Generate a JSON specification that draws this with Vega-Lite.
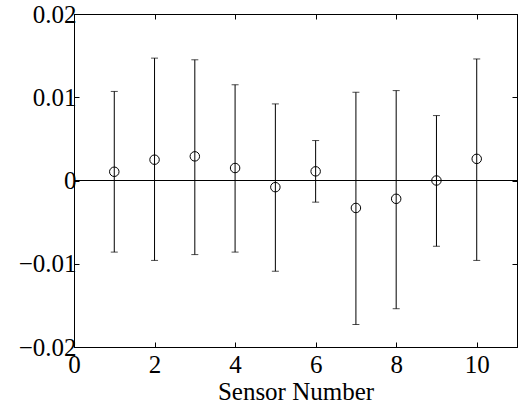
{
  "$schema": "https://vega.github.io/schema/vega-lite/v6.json",
  "width": 443,
  "height": 333,
  "autosize": {"type": "none"},
  "padding": {"left": 74, "top": 14, "right": 1, "bottom": 59},
  "background": "white",
  "config": {"view": {"stroke": "black", "strokeWidth": 1}, "font": "Liberation Serif"},
  "data": {
    "values": [
      {"sensor": 1, "mean": 0.00105, "lo": -0.0086, "hi": 0.0107},
      {"sensor": 2, "mean": 0.0025, "lo": -0.0096, "hi": 0.0147},
      {"sensor": 3, "mean": 0.0029, "lo": -0.0089, "hi": 0.0145},
      {"sensor": 4, "mean": 0.0015, "lo": -0.0086, "hi": 0.0115},
      {"sensor": 5, "mean": -0.0008, "lo": -0.0109, "hi": 0.0092},
      {"sensor": 6, "mean": 0.0011, "lo": -0.0026, "hi": 0.0048},
      {"sensor": 7, "mean": -0.0033, "lo": -0.0173, "hi": 0.0106},
      {"sensor": 8, "mean": -0.0022, "lo": -0.0154, "hi": 0.0108},
      {"sensor": 9, "mean": 0.0, "lo": -0.0079, "hi": 0.0078},
      {"sensor": 10, "mean": 0.0026, "lo": -0.0096, "hi": 0.0146}
    ]
  },
  "resolve": {"axis": {"x": "independent", "y": "independent"}},
  "layer": [
    {
      "mark": {"type": "rule", "color": "black", "strokeWidth": 1},
      "encoding": {
        "x": {
          "field": "sensor", "type": "quantitative",
          "scale": {"domain": [0, 11], "nice": false, "zero": false},
          "axis": {
            "orient": "bottom", "values": [0, 2, 4, 6, 8, 10], "tickSize": -5,
            "labelFontSize": 25, "labelFont": "Liberation Serif", "labelColor": "black",
            "labelPadding": 10, "labelFlush": false, "labelOverlap": false,
            "tickColor": "black", "domainColor": "black", "grid": false,
            "title": "Sensor Number", "titleFontSize": 25, "titleFont": "Liberation Serif",
            "titleFontWeight": "normal", "titleColor": "black", "titlePadding": 2
          }
        },
        "y": {
          "field": "lo", "type": "quantitative",
          "scale": {"domain": [-0.02, 0.02], "nice": false, "zero": false},
          "axis": {
            "orient": "left", "values": [-0.02, -0.01, 0, 0.01, 0.02], "tickSize": -5,
            "labelExpr": "datum.value == 0 ? '0' : format(datum.value, '.2f')",
            "labelFontSize": 25, "labelFont": "Liberation Serif", "labelColor": "black",
            "labelPadding": 3, "labelFlush": false, "labelOverlap": false,
            "tickColor": "black", "domainColor": "black", "grid": false, "title": null
          }
        },
        "y2": {"field": "hi"}
      }
    },
    {
      "mark": {"type": "tick", "orient": "horizontal", "size": 7, "thickness": 1, "color": "black"},
      "encoding": {
        "x": {"field": "sensor", "type": "quantitative", "axis": null},
        "y": {"field": "hi", "type": "quantitative", "axis": null}
      }
    },
    {
      "mark": {"type": "tick", "orient": "horizontal", "size": 7, "thickness": 1, "color": "black"},
      "encoding": {
        "x": {"field": "sensor", "type": "quantitative", "axis": null},
        "y": {"field": "lo", "type": "quantitative", "axis": null}
      }
    },
    {
      "mark": {"type": "point", "shape": "circle", "filled": false, "size": 90, "color": "black", "strokeWidth": 1, "opacity": 1},
      "encoding": {
        "x": {"field": "sensor", "type": "quantitative", "axis": null},
        "y": {"field": "mean", "type": "quantitative", "axis": null}
      }
    },
    {
      "mark": {"type": "rule", "color": "black", "strokeWidth": 1},
      "encoding": {
        "x": {"datum": 0, "type": "quantitative", "axis": {
          "orient": "top", "values": [0, 2, 4, 6, 8, 10], "tickSize": -5, "labels": false,
          "tickColor": "black", "domainColor": "black", "grid": false, "title": null}},
        "x2": {"datum": 11},
        "y": {"datum": 0, "type": "quantitative", "axis": {
          "orient": "right", "values": [-0.02, -0.01, 0, 0.01, 0.02], "tickSize": -5, "labels": false,
          "tickColor": "black", "domainColor": "black", "grid": false, "title": null}}
      }
    }
  ]
}
